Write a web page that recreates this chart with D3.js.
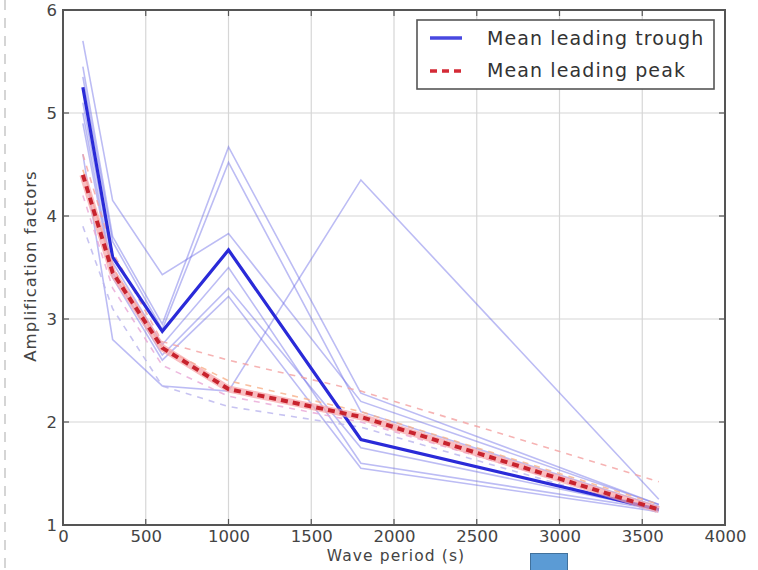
<!DOCTYPE html>
<html>
<head>
<meta charset="utf-8">
<script src="https://cdn.jsdelivr.net/npm/d3@7"></script>
<style>
html,body{margin:0;padding:0;background:#fff;}
svg{display:block;font-family:"DejaVu Sans",sans-serif;}
</style>
</head>
<body>
<svg id="chart" width="758" height="570"></svg>
<script>
// ---- data ----
const periods = [120, 300, 600, 1000, 1800, 3600];
const meanTrough = [5.25, 3.60, 2.88, 3.67, 1.83, 1.15];
const meanPeak   = [4.40, 3.45, 2.72, 2.32, 2.05, 1.15];
const troughRuns = [
  [5.70, 4.15, 3.43, 3.83, 2.20, 1.20],
  [5.45, 3.80, 2.95, 4.67, 2.28, 1.20],
  [5.35, 3.75, 2.90, 4.52, 2.10, 1.18],
  [5.10, 3.55, 2.75, 3.50, 1.60, 1.15],
  [5.00, 3.45, 2.65, 3.30, 1.75, 1.15],
  [4.90, 3.40, 2.60, 3.22, 1.55, 1.13],
  [4.60, 2.80, 2.35, 2.30, 4.35, 1.25]
];
const peakRuns = [
  [4.60, 3.65, 2.78, 2.60, 2.30, 1.42],
  [4.45, 3.50, 2.72, 2.40, 2.10, 1.20],
  [4.20, 3.30, 2.55, 2.25, 2.00, 1.15],
  [3.90, 3.10, 2.35, 2.15, 1.95, 1.12]
];
const peakRunColors = ["#f4a0a0", "#f7b08a", "#e9a6d6", "#b9b4ee"];
const xTicks = [0, 500, 1000, 1500, 2000, 2500, 3000, 3500, 4000];
const yTicks = [1, 2, 3, 4, 5, 6];
const legendLabels = ["Mean leading trough", "Mean leading peak"];
const xLabel = "Wave period (s)";
const yLabel = "Amplification factors";

// ---- layout ----
const svg = d3.select("#chart");
const L = 63, R = 725, T = 10, B = 525;
const x = d3.scaleLinear().domain([0, 4000]).range([L, R]);
const y = d3.scaleLinear().domain([1, 6]).range([B, T]);

// page decorations
svg.append("line").attr("x1", 5).attr("x2", 5).attr("y1", 0).attr("y2", 570)
  .attr("stroke", "#c8c8c8").attr("stroke-width", 1.5).attr("stroke-dasharray", "10,8");

// grid
const g = svg.append("g");
g.selectAll(".gx").data(xTicks.slice(1, -1)).enter().append("line")
  .attr("x1", d => x(d)).attr("x2", d => x(d)).attr("y1", T).attr("y2", B)
  .attr("stroke", "#d6d6d6").attr("stroke-width", 1.2);
g.selectAll(".gy").data(yTicks.slice(1, -1)).enter().append("line")
  .attr("y1", d => y(d)).attr("y2", d => y(d)).attr("x1", L).attr("x2", R)
  .attr("stroke", "#d6d6d6").attr("stroke-width", 1.2);

const line = d3.line().x((d, i) => x(periods[i])).y(d => y(d));

// thin runs
const plot = svg.append("g");
troughRuns.forEach(r => {
  plot.append("path").attr("d", line(r)).attr("fill", "none")
    .attr("stroke", "#6b6be6").attr("stroke-opacity", 0.45).attr("stroke-width", 1.6);
});
peakRuns.forEach((r, i) => {
  plot.append("path").attr("d", line(r)).attr("fill", "none")
    .attr("stroke", peakRunColors[i]).attr("stroke-opacity", 0.8).attr("stroke-width", 1.6)
    .attr("stroke-dasharray", "6,6");
});

// mean lines
plot.append("path").attr("d", line(meanTrough)).attr("fill", "none")
  .attr("stroke", "#2a2ad8").attr("stroke-width", 3.2).attr("stroke-linejoin", "miter");
plot.append("path").attr("d", line(meanPeak)).attr("fill", "none")
  .attr("stroke", "#f6a3a6").attr("stroke-width", 7).attr("stroke-opacity", 0.7);
plot.append("path").attr("d", line(meanPeak)).attr("fill", "none")
  .attr("stroke", "#c8232e").attr("stroke-width", 4).attr("stroke-dasharray", "7,5");

// ticks (inside, all sides)
const tk = svg.append("g").attr("stroke", "#555").attr("stroke-width", 1.2);
xTicks.forEach(d => {
  tk.append("line").attr("x1", x(d)).attr("x2", x(d)).attr("y1", B).attr("y2", B - 6);
  tk.append("line").attr("x1", x(d)).attr("x2", x(d)).attr("y1", T).attr("y2", T + 6);
});
yTicks.forEach(d => {
  tk.append("line").attr("y1", y(d)).attr("y2", y(d)).attr("x1", L).attr("x2", L + 6);
  tk.append("line").attr("y1", y(d)).attr("y2", y(d)).attr("x1", R).attr("x2", R - 6);
});

// frame
svg.append("rect").attr("x", L).attr("y", T).attr("width", R - L).attr("height", B - T)
  .attr("fill", "none").attr("stroke", "#555").attr("stroke-width", 2);

// tick labels via axes
const xAxis = svg.append("g").attr("transform", `translate(0,${B})`)
  .call(d3.axisBottom(x).tickValues(xTicks).tickSize(0).tickPadding(5).tickFormat(d3.format("d")));
xAxis.select(".domain").remove();
xAxis.selectAll("text").attr("font-size", 16.5).attr("fill", "#444")
  .attr("font-family", "DejaVu Sans, sans-serif");
const yAxis = svg.append("g").attr("transform", `translate(${L},0)`)
  .call(d3.axisLeft(y).tickValues(yTicks).tickSize(0).tickPadding(6).tickFormat(d3.format("d")));
yAxis.select(".domain").remove();
yAxis.selectAll("text").attr("font-size", 16.5).attr("fill", "#444")
  .attr("font-family", "DejaVu Sans, sans-serif");

// axis labels
svg.append("text").attr("x", 396).attr("y", 561).attr("text-anchor", "middle")
  .attr("font-size", 15.5).attr("letter-spacing", 1.1).attr("fill", "#444").text(xLabel);
svg.append("text").attr("transform", "translate(36,266) rotate(-90)").attr("text-anchor", "middle")
  .attr("font-size", 16.5).attr("letter-spacing", 1.0).attr("fill", "#444").text(yLabel);

// legend
const lg = svg.append("g");
lg.append("rect").attr("x", 417).attr("y", 20).attr("width", 297).attr("height", 69)
  .attr("fill", "#fff").attr("stroke", "#555").attr("stroke-width", 1.6);
lg.append("line").attr("x1", 430).attr("x2", 462).attr("y1", 38).attr("y2", 38)
  .attr("stroke", "#4848e0").attr("stroke-width", 3.5);
lg.append("line").attr("x1", 430).attr("x2", 462).attr("y1", 71).attr("y2", 71)
  .attr("stroke", "#d42a36").attr("stroke-width", 3.5).attr("stroke-dasharray", "7,5");
legendLabels.forEach((t, i) => {
  lg.append("text").attr("x", 487).attr("y", 45 + i * 32).attr("font-size", 19)
    .attr("letter-spacing", 1.1).attr("fill", "#333").text(t);
});

// stray blue box at bottom
svg.append("rect").attr("x", 530.5).attr("y", 553.5).attr("width", 37).attr("height", 17)
  .attr("fill", "#5b9bd5").attr("stroke", "#41719c").attr("stroke-width", 1);
</script>
</body>
</html>
